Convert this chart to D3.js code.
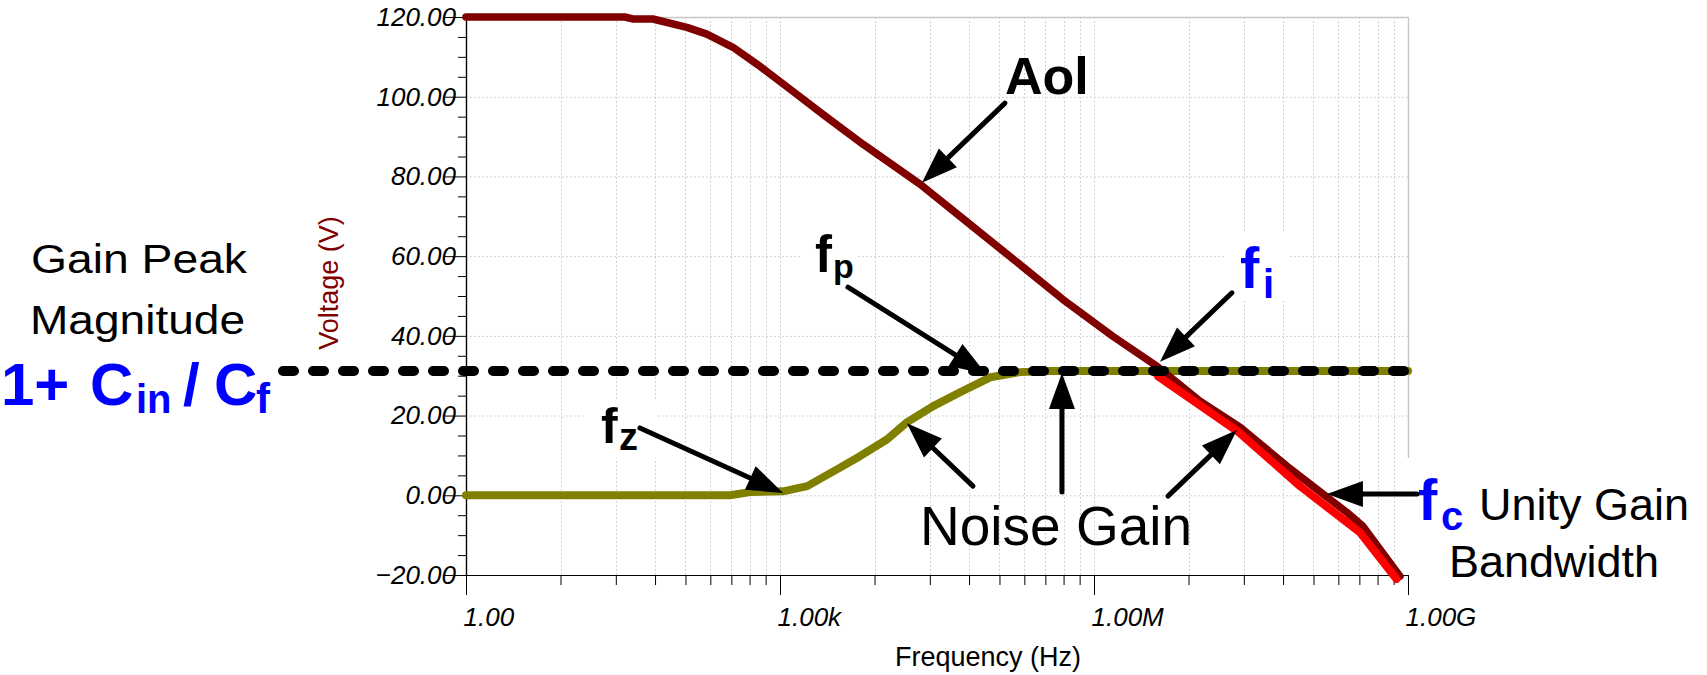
<!DOCTYPE html>
<html>
<head>
<meta charset="utf-8">
<script src="https://cdn.jsdelivr.net/npm/d3@7"></script>
<style>
  body { margin: 0; background: #fff; }
  svg { display: block; font-family: 'Liberation Sans', Arial, sans-serif; }
  .tick text { font-family: 'Liberation Sans', Arial, sans-serif; font-style: italic; font-size: 26px; fill: #000; }
  .axis path, .axis line { stroke: #000; }
</style>
</head>
<body>
<svg id="chart" width="1707" height="675"></svg>
<script>
  // open loop gain (Aol): frequency in Hz, gain in dB
  const aolFreq = [1, 33, 39, 61, 129, 200, 355, 646, 1320, 2600, 6200, 21900, 61700,
    170e3, 501e3, 1.51e6, 3.98e6, 10.3e6, 24.8e6, 69.8e6, 261e6, 372e6, 838e6];
  const aolGain = [120, 120, 119.5, 119.5, 117.4, 115.7, 112.4, 107.6, 101.4, 95.5, 88.1, 78, 68.5,
    59.2, 49.2, 39.9, 32.4, 23.6, 17.1, 7.3, -4.3, -7.8, -20.3];

  // noise gain
  const noiseFreq = [1, 333, 517, 1070, 1820, 3500, 5800, 10.5e3, 16.3e3, 28.8e3, 52e3,
    102e3, 196e3, 380e3, 1e9];
  const noiseGain = [0, 0, 0.8, 1.0, 2.3, 6.5, 9.8, 14, 18.3, 22.3, 25.8, 29.6, 30.9, 31.2, 31.2];

  // closed loop part past fi (red)
  const closedFreq = [4.07e6, 23.4e6, 93e6, 347e6, 776e6];
  const closedGain = [29.9, 16.1, 2.3, -9.3, -21];

  // gain peak level 1 + Cin/Cf
  const peakGain = 31.2;

  // axes
  const yTicks = [-20, 0, 20, 40, 60, 80, 100, 120];
  const yMinorTicks = [-15, -10, -5, 5, 10, 15, 25, 30, 35, 45, 50, 55, 65, 70, 75, 85, 90, 95, 105, 110, 115];
  const xTicks = [1, 1e3, 1e6, 1e9];
  const xTickLabels = ['1.00', '1.00k', '1.00M', '1.00G'];
  const xMinorSteps = [8, 27, 64, 125, 216, 343, 512, 729];

  // annotation arrows: [from Hz, from dB, to Hz, to dB]
  const arrows = [
    [141e3, 98.4, 22.7e3, 78.4],   // Aol
    [4.46e3, 52.2, 93e3, 30.4],    // fp
    [20.8e6, 50.8, 4.27e6, 33.5],  // fi
    [45.9, 16.9, 1.07e3, 0.6],     // fz
    [69.8e3, 2.3, 16.3e3, 18.1],   // noise gain
    [494e3, 0.8, 494e3, 30.7],
    [5.09e6, -0.2, 23.2e6, 16.4],
    [1.22e9, 0.3, 168e6, 0.3],     // fc
  ];

  const svg = d3.select('#chart');

  const x = d3.scaleLog().domain([1, 1e9]).range([466, 1408]);
  const y = d3.scaleLinear().domain([-20, 120]).range([575, 17]);

  const xMinor = [];
  [1, 1e3, 1e6].forEach((base) => {
    xMinorSteps.forEach((s) => xMinor.push(base * s));
  });

  // grid
  let grid = svg.append('g')
    .attr('stroke', '#c4c4c4')
    .attr('stroke-width', 1)
    .attr('stroke-dasharray', '1.5,2.5');

  grid.selectAll('line.h')
    .data(yTicks.filter((d) => d > -20 && d < 120))
    .enter().append('line')
    .attr('x1', x(1)).attr('x2', x(1e9))
    .attr('y1', (d) => y(d) + 0.5).attr('y2', (d) => y(d) + 0.5);

  grid.selectAll('line.v')
    .data(xMinor.concat([1e3, 1e6]))
    .enter().append('line')
    .attr('x1', (d) => Math.round(x(d)) + 0.5).attr('x2', (d) => Math.round(x(d)) + 0.5)
    .attr('y1', y(120)).attr('y2', y(-20));

  // frame top / right
  svg.append('line')
    .attr('x1', x(1)).attr('x2', x(1e9) + 0.5)
    .attr('y1', y(120) + 0.5).attr('y2', y(120) + 0.5)
    .attr('stroke', '#c8c8c8').attr('stroke-width', 1.5);
  svg.append('line')
    .attr('x1', x(1e9) + 0.5).attr('x2', x(1e9) + 0.5)
    .attr('y1', y(120)).attr('y2', 458)
    .attr('stroke', '#c8c8c8').attr('stroke-width', 1.5);

  // white boxes behind labels inside the plot
  [[585, 400, 72, 58], [800, 228, 58, 66], [1225, 233, 65, 67]].forEach((b) => {
    svg.append('rect').attr('x', b[0]).attr('y', b[1]).attr('width', b[2]).attr('height', b[3]).attr('fill', '#fff');
  });

  // axes
  let yAxisG = svg.append('g').attr('class', 'axis').attr('transform', 'translate(' + x(1) + ',0)');
  yAxisG.append('g')
    .call(d3.axisLeft(y).tickValues(yMinorTicks).tickSize(8).tickSizeOuter(0).tickFormat(''));
  yAxisG.append('g')
    .call(d3.axisLeft(y).tickValues(yTicks).tickSize(22).tickSizeOuter(0).tickPadding(-12)
      .tickFormat(d3.format('.2f')));

  let xAxisG = svg.append('g').attr('class', 'axis').attr('transform', 'translate(0,' + y(-20) + ')');
  xAxisG.append('g')
    .call(d3.axisBottom(x).tickValues(xMinor).tickSize(10).tickSizeOuter(0).tickFormat(''));
  xAxisG.append('g')
    .call(d3.axisBottom(x).tickValues(xTicks).tickSize(20).tickSizeOuter(0)
      .tickFormat((d, i) => xTickLabels[i]))
    .selectAll('text')
    .attr('text-anchor', 'start')
    .attr('x', -3)
    .attr('y', 51)
    .attr('dy', null);

  svg.selectAll('.axis .domain').attr('stroke-width', 1.2);
  svg.selectAll('.axis g').attr('font-family', null).attr('font-size', null);

  // axis titles
  svg.append('text')
    .attr('x', 988).attr('y', 666)
    .attr('text-anchor', 'middle')
    .attr('font-size', 27)
    .text('Frequency (Hz)');

  svg.append('text')
    .attr('transform', 'translate(338,283) rotate(-90)')
    .attr('text-anchor', 'middle')
    .attr('font-size', 27)
    .attr('fill', '#800000')
    .text('Voltage (V)');

  // curves
  const line = d3.line().x((d) => x(d[0])).y((d) => y(d[1]));

  svg.append('path')
    .datum(d3.zip(noiseFreq, noiseGain))
    .attr('d', line)
    .attr('fill', 'none').attr('stroke', '#808000').attr('stroke-width', 8)
    .attr('stroke-linejoin', 'round').attr('stroke-linecap', 'round');

  svg.append('path')
    .datum(d3.zip(aolFreq, aolGain))
    .attr('d', line)
    .attr('fill', 'none').attr('stroke', '#800000').attr('stroke-width', 7.5)
    .attr('stroke-linejoin', 'round').attr('stroke-linecap', 'round');

  svg.append('path')
    .datum(d3.zip(closedFreq, closedGain))
    .attr('d', line)
    .attr('fill', 'none').attr('stroke', '#ff0000').attr('stroke-width', 8)
    .attr('stroke-linejoin', 'round').attr('stroke-linecap', 'round');

  // gain peak dashed level
  svg.append('line')
    .attr('x1', 283).attr('x2', 1420)
    .attr('y1', y(peakGain)).attr('y2', y(peakGain))
    .attr('stroke', '#000').attr('stroke-width', 10)
    .attr('stroke-linecap', 'round')
    .attr('stroke-dasharray', '11,19');

  // arrows
  function drawArrow(x1, y1, x2, y2) {
    const len = Math.hypot(x2 - x1, y2 - y1);
    const ux = (x2 - x1) / len;
    const uy = (y2 - y1) / len;
    const headLen = 36;
    const headW = 13;
    const bx = x2 - ux * headLen;
    const by = y2 - uy * headLen;
    svg.append('line')
      .attr('x1', x1).attr('y1', y1)
      .attr('x2', bx + ux * 4).attr('y2', by + uy * 4)
      .attr('stroke', '#000').attr('stroke-width', 5).attr('stroke-linecap', 'round');
    svg.append('path')
      .attr('d', 'M' + x2 + ',' + y2 +
        'L' + (bx - uy * headW) + ',' + (by + ux * headW) +
        'L' + (bx + uy * headW) + ',' + (by - ux * headW) + 'Z')
      .attr('fill', '#000');
  }

  arrows.forEach((a) => drawArrow(x(a[0]), y(a[1]), x(a[2]), y(a[3])));

  // labels
  function label(txt, px, py, size, opts) {
    opts = opts || {};
    let t = svg.append('text')
      .attr('x', px).attr('y', py)
      .attr('font-size', size)
      .attr('font-weight', opts.bold ? 'bold' : null)
      .attr('fill', opts.fill || '#000')
      .text(txt);
    if (opts.len) {
      t.attr('textLength', opts.len).attr('lengthAdjust', 'spacingAndGlyphs');
    }
    return t;
  }

  label('Aol', 1005, 94, 52, {bold: true});
  label('f', 815, 272, 51, {bold: true});
  label('p', 833, 278, 34, {bold: true});
  label('f', 601, 443, 50, {bold: true});
  label('z', 619, 450, 38, {bold: true});
  label('f', 1240, 288, 58, {bold: true, fill: '#0000ff'});
  label('i', 1263, 298, 40, {bold: true, fill: '#0000ff'});
  label('f', 1418, 520, 58, {bold: true, fill: '#0000ff'});
  label('c', 1441, 530, 40, {bold: true, fill: '#0000ff'});

  label('Noise Gain', 920, 545, 55);
  label('Unity Gain', 1479, 520, 45);
  label('Bandwidth', 1449, 577, 45);

  label('Gain Peak', 31, 273, 40, {len: 216});
  label('Magnitude', 30, 334, 40, {len: 215});

  const blue = {bold: true, fill: '#0000ff'};
  label('1+', 1, 405, 60, blue);
  label('C', 90, 405, 60, blue);
  label('in', 136, 413, 40, blue);
  label('/', 183, 405, 60, blue);
  label('C', 214, 405, 60, blue);
  label('f', 256, 413, 42, blue);
</script>
</body>
</html>
